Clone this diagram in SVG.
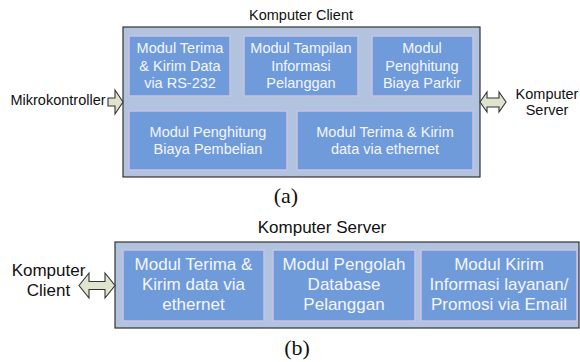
<svg xmlns="http://www.w3.org/2000/svg" width="580" height="362" viewBox="0 0 580 362">
<style>
.outer{fill:#b1c3de;stroke:#333;stroke-width:1.2}
.inner{fill:#6f9bdb;stroke:#c9c1e6;stroke-width:1.5}
.t{font-family:"Liberation Sans",Arial,sans-serif;text-anchor:middle}
.w{fill:#f4f6ff}
.k{fill:#111}
.a{font-size:14.5px}
.b{font-size:17px}
.lab{font-family:"Liberation Serif","Times New Roman",serif;font-size:22px;text-anchor:middle;fill:#111}
.arr{fill:#dfe4cf;stroke:#333;stroke-width:1.1;stroke-linejoin:miter}
</style>
<rect width="580" height="362" fill="#fff"/>
<g id="client">
<text class="t k a" x="301" y="20">Komputer Client</text>
<rect class="outer" x="123" y="27" width="357" height="150"/>
</g>
<g id="c-mod1">
<rect class="inner" x="129" y="36" width="101" height="60"/>
<text class="t w a" x="180" y="53">Modul Terima</text>
<text class="t w a" x="180" y="71">&amp; Kirim Data</text>
<text class="t w a" x="180" y="88">via RS-232</text>
</g>
<g id="c-mod2">
<rect class="inner" x="244" y="36" width="114" height="60"/>
<text class="t w a" x="301" y="53">Modul Tampilan</text>
<text class="t w a" x="301" y="71">Informasi</text>
<text class="t w a" x="301" y="88">Pelanggan</text>
</g>
<g id="c-mod3">
<rect class="inner" x="372" y="36" width="101" height="60"/>
<text class="t w a" x="422" y="53">Modul</text>
<text class="t w a" x="422" y="71">Penghitung</text>
<text class="t w a" x="422" y="88">Biaya Parkir</text>
</g>
<g id="c-mod4">
<rect class="inner" x="129" y="111" width="158" height="59"/>
<text class="t w a" x="208" y="137">Modul Penghitung</text>
<text class="t w a" x="208" y="154">Biaya Pembelian</text>
</g>
<g id="c-mod5">
<rect class="inner" x="297" y="111" width="176" height="59"/>
<text class="t w a" x="385" y="137">Modul Terima &amp; Kirim</text>
<text class="t w a" x="385" y="154">data via ethernet</text>
</g>
<g id="mikro">
<text class="t k a" x="58" y="105">Mikrokontroller</text>
</g>
<g id="server-ext">
<text class="t k a" x="547" y="99">Komputer</text>
<text class="t k a" x="547" y="115">Server</text>
</g>
<text class="lab" x="286" y="203">(a)</text>
<g id="server">
<text class="t k b" x="322" y="233">Komputer Server</text>
<rect class="outer" x="115" y="242" width="464" height="86"/>
</g>
<g id="s-mod1">
<rect class="inner" x="123" y="250" width="141" height="71"/>
<text class="t w b" x="193.5" y="270">Modul Terima &amp;</text>
<text class="t w b" x="193.5" y="290">Kirim data via</text>
<text class="t w b" x="193.5" y="310">ethernet</text>
</g>
<g id="s-mod2">
<rect class="inner" x="273" y="250" width="142" height="71"/>
<text class="t w b" x="344" y="270">Modul Pengolah</text>
<text class="t w b" x="344" y="290">Database</text>
<text class="t w b" x="344" y="310">Pelanggan</text>
</g>
<g id="s-mod3">
<rect class="inner" x="421" y="250" width="156" height="71"/>
<text class="t w b" x="499" y="270">Modul Kirim</text>
<text class="t w b" x="499" y="290">Informasi layanan/</text>
<text class="t w b" x="499" y="310">Promosi via Email</text>
</g>
<g id="client-ext">
<text class="t k b" x="48.5" y="276">Komputer</text>
<text class="t k b" x="48.5" y="296">Client</text>
</g>
<text class="lab" x="297" y="355">(b)</text>
<g id="connectors">
<path class="arr" d="M108,98 H115 V90 L123,102 L115,114 V106 H108 Z"/>
<path class="arr" d="M480,102 L487,92 V98 H499 V92 L506,102 L499,112 V107 H487 V112 Z"/>
<path class="arr" d="M79,285.5 L89,273 V281.5 H105 V273 L115,285.5 L105,298 V289.5 H89 V298 Z"/>
</g>
</svg>
